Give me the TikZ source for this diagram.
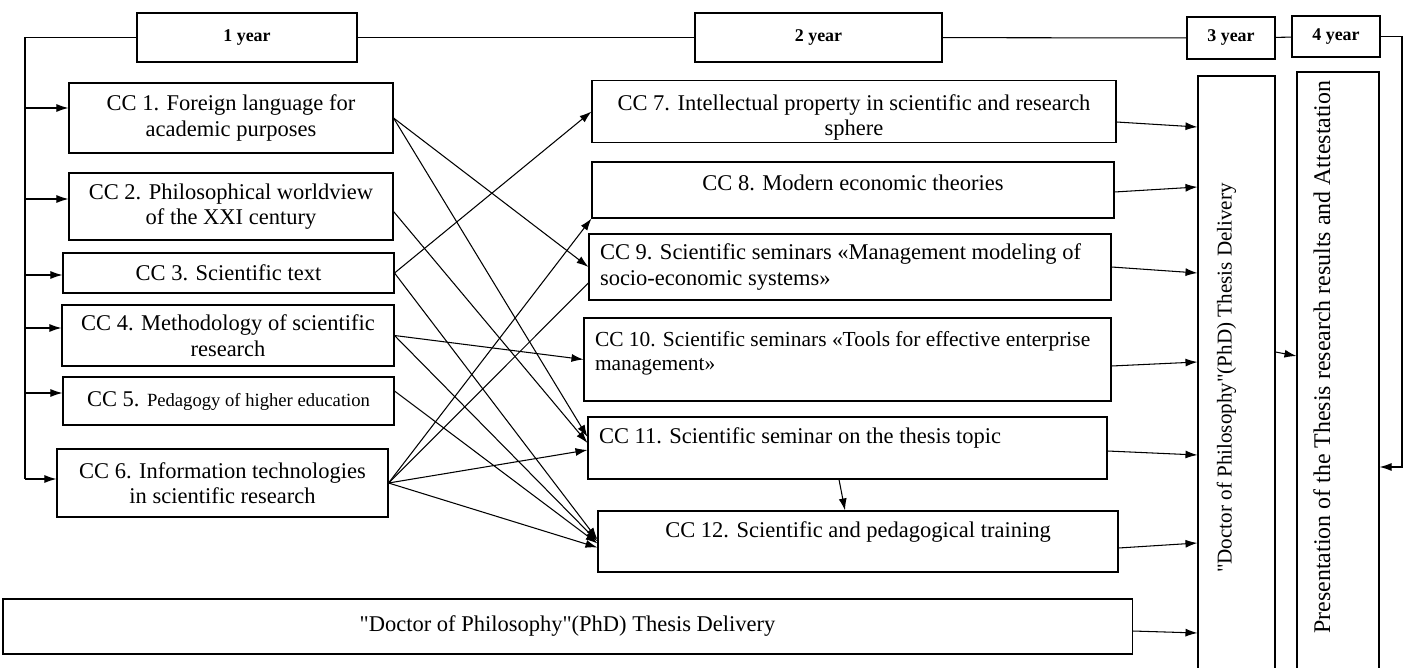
\documentclass[tikz,border=0pt]{standalone}
\usepackage{fontspec}
\setmainfont{Liberation Serif}
\usetikzlibrary{arrows.meta}

\tikzset{
  box/.style={draw, line width=0.6pt, align=center, inner sep=1pt,
    font=\fontsize{12.8}{14.5}\selectfont},
  yearbox/.style={draw, line width=0.6pt, inner sep=1pt,
    font=\fontsize{10.2}{12}\selectfont\bfseries},
  tallbox/.style={box, rotate=90, font=\fontsize{12}{14}\selectfont},
  leftbox/.style={box, align=flush left, inner xsep=2.2mm},
  >={Latex[length=2.4mm,width=1.6mm]}
}

\begin{document}
\begin{tikzpicture}[x=0.2mm, y=-0.2mm, line width=0.6pt]
\useasboundingbox (0,0) rectangle (1411,668);

\draw (247,37.5)    node (y1) [yearbox, minimum width=44mm, minimum height=9.8mm] {1 year};
\draw (818.5,37.5)  node (y2) [yearbox, minimum width=49.4mm, minimum height=9.8mm] {2 year};
\draw (1231,38)     node (y3) [yearbox, minimum width=17.6mm, minimum height=8.4mm] {3 year};
\draw (1336,36.5)   node (y4) [yearbox, minimum width=17.6mm, minimum height=8.2mm] {4 year};
\draw (y1) -- (y2);
\draw (y2) -- (y3);
\draw (y3) -- (y4);

\draw (231,118)     node (cc1) [box, minimum width=64.8mm, minimum height=14mm] {CC 1. Foreign language for\\academic purposes};
\draw (231,206.5)   node (cc2) [box, minimum width=64.8mm, minimum height=13.4mm] {CC 2. Philosophical worldview\\of the XXI century};
\draw (228.5,273)   node (cc3) [box, minimum width=66.2mm, minimum height=8mm] {CC 3. Scientific text};
\draw (228,335.5)   node (cc4) [box, minimum width=66.4mm, minimum height=12.2mm] {CC 4. Methodology of scientific\\research};
\draw (228.5,401)   node (cc5) [box, minimum width=66.2mm, minimum height=9.6mm] {CC 5. {\fontsize{10.6}{12}\selectfont Pedagogy of higher education}};
\draw (222.5,483)   node (cc6) [box, minimum width=66.2mm, minimum height=13.6mm] {CC 6. Information technologies\\in scientific research};

\draw (854,111.5)   node (cc7) [box, minimum width=104.8mm, minimum height=12.2mm] {\mbox{}\\[0.4mm]CC 7. Intellectual property in scientific and research\\sphere};
\draw (853,190)     node (cc8) [box, minimum width=104.4mm, minimum height=11.2mm, text height=3.2mm, text depth=2.8mm] {CC 8. Modern economic theories};
\draw (850,267)     node (cc9) [leftbox, text width=100mm, minimum height=13.2mm] {CC 9. Scientific seminars «Management modeling of\\socio-economic systems»};
\draw (847.5,359.5) node (cc10) [leftbox, text width=101mm, minimum height=16.6mm, font=\fontsize{12.2}{14}\selectfont] {CC 10. Scientific seminars «Tools for effective enterprise\\management»\\[-1.5mm]\mbox{}};
\draw (847.5,448)   node (cc11) [leftbox, text width=99.4mm, minimum height=12.4mm, text height=3.2mm, text depth=5.1mm] {CC 11. Scientific seminar on the thesis topic};
\draw (858,541.5)   node (cc12) [box, minimum width=104mm, minimum height=12.2mm, text height=3.2mm, text depth=4.9mm] {CC 12. Scientific and pedagogical training};

\draw (567.5,626.5) node (thesis) [box, minimum width=225.8mm, minimum height=11mm] {\textquotedbl Doctor of Philosophy\textquotedbl(PhD) Thesis Delivery};

\draw (1236.5,378)  node (tall3) [tallbox, minimum width=120.8mm, minimum height=15.4mm, text height=3mm, text depth=5mm] {\textquotedbl Doctor of Philosophy\textquotedbl(PhD) Thesis Delivery};
\draw (1338,376)    node (tall4) [tallbox, minimum width=121.6mm, minimum height=16.4mm, text height=3.2mm, text depth=6.4mm, font=\fontsize{13.6}{15}\selectfont] {\hspace*{7.6mm}Presentation of the Thesis research results and Attestation};

\coordinate (spine) at (25,0);
\coordinate (rail) at (1402,467);
\draw (y1.west) -- (y1.west -| spine) -- ([yshift=0.8mm]cc6.west -| spine);
\foreach \n/\s in {1/2mm, 2/1.5mm, 3/-0.4mm, 4/1.5mm, 5/1.6mm, 6/0.8mm}
  \draw[->] ([yshift=\s]cc\n.west -| spine) -- ([yshift=\s]cc\n.west);
\draw[->] (y4.east) -| (rail) -- (rail -| tall4.south);

\draw[->] (cc1.east) -- (cc9.west);
\draw[->] (cc1.east) -- ([yshift=2.2mm]cc11.west);
\draw[->] ([yshift=-1mm]cc2.east) -- ([yshift=1mm]cc11.west);
\draw[->] (cc3.east) -- (cc7.west);
\draw[->] (cc3.east) -- ([yshift=0.4mm]cc12.west);
\draw[->] (cc4.east) -- (cc10.west);
\draw[->] (cc4.east) -- (cc12.west);
\draw[->] ([yshift=2mm]cc5.east) -- ([yshift=-0.4mm]cc12.west);
\draw[->] (cc6.east) -- (cc8.south west);
\draw (cc6.east) -- ([yshift=-3.2mm]cc9.west);
\draw[->] (cc6.east) -- ([yshift=-0.4mm]cc11.west);
\draw[->] (cc6.east) -- ([yshift=-1.2mm]cc12.west);
\draw[->] ([xshift=-1.7mm]cc11.south) -- ([xshift=-2.6mm]cc12.north);

\draw[->] ([yshift=-2.1mm]cc7.east) -- ([yshift=-3.1mm]cc7.east -| tall3.north);
\draw[->] ([yshift=-0.4mm]cc8.east) -- ([yshift=0.6mm]cc8.east -| tall3.north);
\draw[->] (cc9.east) -- ([yshift=-1.2mm]cc9.east -| tall3.north);
\draw[->] ([yshift=-1.3mm]cc10.east) -- ([yshift=-0.5mm]cc10.east -| tall3.north);
\draw[->] ([yshift=-0.6mm]cc11.east) -- ([yshift=-1.4mm]cc11.east -| tall3.north);
\draw[->] ([yshift=-1.3mm]cc12.east) -- ([yshift=-0.3mm]cc12.east -| tall3.north);
\draw[->] ([yshift=-0.9mm]thesis.east) -- ([yshift=-1.3mm]thesis.east -| tall3.north);
\draw[->] ([yshift=5.2mm]tall3.south) -- ([yshift=4mm]tall4.north);
\end{tikzpicture}
\end{document}
